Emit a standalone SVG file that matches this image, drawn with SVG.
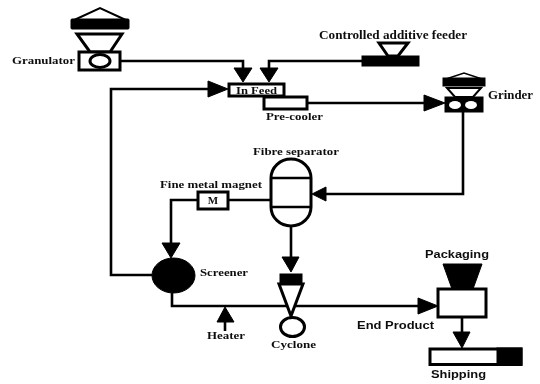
<svg xmlns="http://www.w3.org/2000/svg" width="540" height="384" viewBox="0 0 540 384">
<defs>
<style>
.o{fill:#fff;stroke:#000;stroke-width:3}
.k{fill:#000;stroke:#000;stroke-width:1}
.w{fill:none;stroke:#000;stroke-width:2.6}
.t{font-family:"Liberation Serif",serif;font-weight:bold;fill:#111}
.s{font-family:"Liberation Sans",sans-serif;font-weight:bold;fill:#111}
</style>
<filter id="b" x="-5%" y="-5%" width="110%" height="110%"><feGaussianBlur stdDeviation="0.55"/></filter>
</defs>
<rect width="540" height="384" fill="#fff"/>
<g filter="url(#b)">
<g id="connectors">
<path class="w" d="M121 61H243V70"/><polygon class="k" points="234,68 252,68 243,82"/>
<path class="w" d="M362 61H269V70"/><polygon class="k" points="260,68 278,68 269,82"/>
<path class="w" d="M152 275H111V89H212"/><polygon class="k" points="208,81 208,97 228,89"/>
<path class="w" d="M307 103H428"/><polygon class="k" points="424,95 424,111 445,103"/>
<path class="w" d="M463 112V194H322"/><polygon class="k" points="326,187 326,201 312,194"/>
<path class="w" d="M228 200H270"/>
<path class="w" d="M197 200H171V245"/><polygon class="k" points="162,243 180,243 171,258"/>
<path class="w" d="M291 227V260"/><polygon class="k" points="282,257 299,257 291,272"/>
<path class="w" d="M172 293V306H422"/><polygon class="k" points="418,298 418,314 438,306"/>
<path class="w" d="M225 331V320"/><polygon class="k" points="217,322 234,322 225,307"/>
<path class="w" d="M462 317V335"/><polygon class="k" points="453,332 470,332 462,348"/>
</g>
<g id="granulator">
<path class="o" d="M77 34H122L110 52H90Z"/>
<rect class="o" x="79" y="52" width="41" height="18"/>
<ellipse class="o" cx="100" cy="61" rx="10" ry="6.5"/>
<path class="o" style="stroke-width:2" d="M72 21L100 8L128 21Z"/>
<rect class="k" x="71" y="19" width="58" height="10" rx="1"/>
<text class="t" x="12" y="64" font-size="10.800" textLength="63" lengthAdjust="spacingAndGlyphs">Granulator</text>
</g>
<g id="additive-feeder">
<path class="o" d="M379 43H408L398 56H388Z"/>
<rect class="k" x="362" y="56" width="57" height="10"/>
<text class="t" x="319" y="39" font-size="11.500" textLength="148" lengthAdjust="spacingAndGlyphs">Controlled additive feeder</text>
</g>
<g id="pre-cooler">
<rect class="o" x="264" y="97" width="43" height="12"/>
<text class="t" x="266" y="120" font-size="10.800" textLength="57" lengthAdjust="spacingAndGlyphs">Pre-cooler</text>
</g>
<g id="in-feed">
<rect class="o" x="229" y="84" width="55" height="12"/>
<text class="t" x="236" y="93.500" font-size="10.800" textLength="41" lengthAdjust="spacingAndGlyphs">In Feed</text>
</g>
<g id="grinder">
<path class="o" style="stroke-width:2" d="M447 88H481L473 97H455Z"/>
<path class="o" style="stroke-width:1.500" d="M446 79L464 73L482 79Z"/>
<rect class="k" x="443" y="78" width="42" height="8"/>
<rect class="k" x="445" y="97" width="38" height="15"/>
<ellipse cx="455" cy="105" rx="6" ry="4" fill="#fff"/>
<ellipse cx="471" cy="105" rx="6" ry="4" fill="#fff"/>
<text class="t" x="488" y="99" font-size="11.500" textLength="45" lengthAdjust="spacingAndGlyphs">Grinder</text>
</g>
<g id="fibre-separator">
<path class="o" d="M271 178A20 19 0 0 1 311 178V207A20 19 0 0 1 271 207Z"/>
<path class="w" d="M271 178H311M271 207H311"/>
<text class="t" x="253" y="155" font-size="10.800" textLength="86" lengthAdjust="spacingAndGlyphs">Fibre separator</text>
</g>
<g id="magnet">
<rect class="o" x="198" y="192" width="30" height="17"/>
<text class="t" x="213" y="204" font-size="11" text-anchor="middle">M</text>
<text class="t" x="160" y="188" font-size="10.800" textLength="102" lengthAdjust="spacingAndGlyphs">Fine metal magnet</text>
</g>
<g id="screener">
<ellipse class="k" cx="173.500" cy="275.500" rx="21.500" ry="17.500"/>
<text class="t" x="200" y="276" font-size="10.800" textLength="48" lengthAdjust="spacingAndGlyphs">Screener</text>
</g>
<g id="heater">
<text class="t" x="207" y="339" font-size="10.800" textLength="38" lengthAdjust="spacingAndGlyphs">Heater</text>
</g>
<g id="cyclone">
<rect class="k" x="280" y="274" width="22" height="9"/>
<path class="o" d="M279 284H303L291 316Z"/>
<ellipse class="o" cx="292.500" cy="327" rx="12" ry="9.500"/>
<text class="t" x="271" y="348" font-size="10.800" textLength="45" lengthAdjust="spacingAndGlyphs">Cyclone</text>
</g>
<g id="packaging">
<polygon class="k" points="443,264 482,264 473,289 452,289"/>
<rect class="o" x="438" y="289" width="48" height="28"/>
<text class="s" x="425" y="258" font-size="10" textLength="64" lengthAdjust="spacingAndGlyphs">Packaging</text>
<text class="s" x="357" y="329" font-size="10.500" textLength="77" lengthAdjust="spacingAndGlyphs">End Product</text>
</g>
<g id="shipping">
<rect class="o" x="430" y="349" width="91" height="15.500"/>
<rect class="k" x="497" y="348" width="25" height="17"/>
<text class="s" x="431" y="378" font-size="10.500" textLength="55" lengthAdjust="spacingAndGlyphs">Shipping</text>
</g>
</g>
</svg>
